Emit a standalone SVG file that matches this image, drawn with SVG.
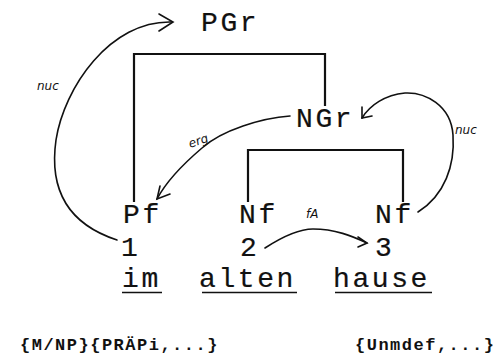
<svg xmlns="http://www.w3.org/2000/svg" width="498" height="357" viewBox="0 0 498 357">
<style>
.t{font-family:"Liberation Mono","Courier New",monospace;font-size:28px;letter-spacing:2.6px;fill:#111;stroke:#111;stroke-width:0.2}
.b{font-family:"Liberation Mono","Courier New",monospace;font-size:17px;font-weight:bold;letter-spacing:1.5px;fill:#111}
.h{font-family:"DejaVu Sans",sans-serif;font-size:12px;font-style:italic;fill:#111}
.tree{fill:none;stroke:#111;stroke-width:2.2}
.arc{fill:none;stroke:#111;stroke-width:1.6;stroke-linecap:round}
.ul{stroke:#111;stroke-width:1.6}
</style>
<rect width="498" height="357" fill="#fff"/>
<g id="connectors">
<path class="tree" d="M134,202 V54 H325 V106"/>
<path class="tree" d="M248,202 V150 H403 V202"/>
<path class="arc" d="M117,240 C62,222 50,182 56,140 C64,88 110,20 172,22"/>
<path class="arc" d="M159,14 L173,22 L159,31"/>
<path class="arc" d="M290,116 C262,118 222,130 202,148 C182,165 166,182 157,199"/>
<path class="arc" d="M160,186 L157,199 L170,194"/>
<path class="arc" d="M418,212 C445,195 455,165 453,135 C451,105 425,92 405,93 C385,95 370,105 362,118"/>
<path class="arc" d="M362,107 L362,118 L372,116"/>
<path class="arc" d="M265,248 C285,235 300,229 313,229 C335,229 352,236 367,243"/>
<path class="arc" d="M358,237 L367,243 L358,247"/>
<text class="h" x="37" y="90">nuc</text>
<text class="h" x="188" y="145" transform="rotate(-20 198 140)">erg</text>
<text class="h" x="455" y="134">nuc</text>
<text class="h" x="306" y="218">fA</text>
</g>
<g id="PGr"><text class="t" x="201" y="31">PGr</text></g>
<g id="NGr"><text class="t" x="296" y="127">NGr</text></g>
<g id="Pf"><text class="t" x="123" y="223">Pf</text><text class="t" x="121" y="256">1</text><text class="t" x="122" y="287">im</text><line class="ul" x1="122" y1="292.5" x2="162" y2="292.5"/></g>
<g id="Nf1"><text class="t" x="239" y="223">Nf</text><text class="t" x="240" y="256">2</text><text class="t" x="199" y="287">alten</text><line class="ul" x1="202" y1="292.5" x2="297" y2="292.5"/></g>
<g id="Nf2"><text class="t" x="375" y="223">Nf</text><text class="t" x="375" y="256">3</text><text class="t" x="333" y="287">hause</text><line class="ul" x1="335" y1="292.5" x2="432" y2="292.5"/></g>
<g id="notes">
<text class="b" x="20" y="350">{M/NP}{PRÄPi,...}</text>
<text class="b" x="355" y="350">{Unmdef,...}</text>
</g>
</svg>
